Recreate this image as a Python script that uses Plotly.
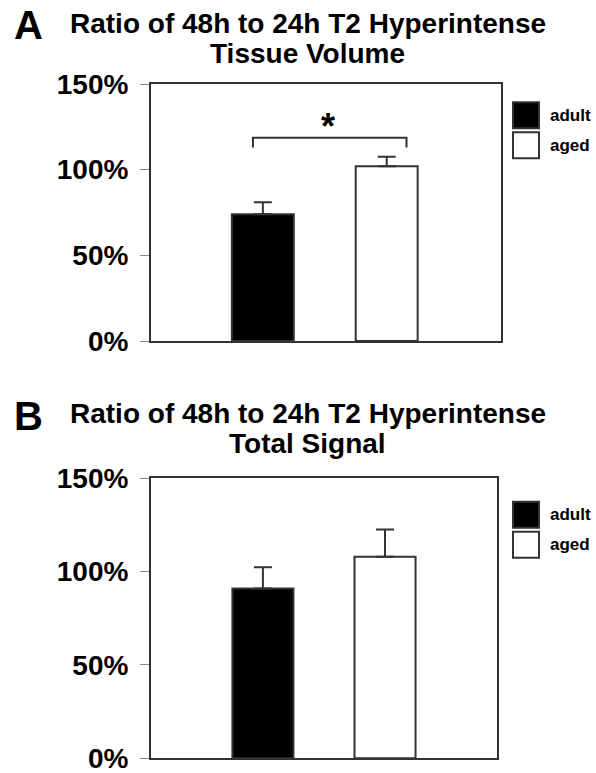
import plotly.graph_objects as go

# ---------------- data ----------------
groups = ["adult", "aged"]
colors = ["#000000", "#ffffff"]

vol_values = [74, 102]        # Panel A: tissue volume ratio (%)
vol_errors = [7, 5.5]
sig_values = [91, 108]        # Panel B: total signal ratio (%)
sig_errors = [11.3, 14.6]

tick_vals = [0, 50, 100, 150]
tick_text = ["0%", "50%", "100%", "150%"]

sig_bracket_level = 118.7     # significance bracket level (%) in panel A
sig_bracket_drop = 5.7
sig_label = "*"

W, H = 596, 773
FONT = "Liberation Sans, Arial, sans-serif"
LINE = "#333333"


def px(x):
    return x / W


def py(y):
    return 1 - y / H


fig = go.Figure()

panels = [
    dict(vals=vol_values, errs=vol_errors, xa="x", ya="y"),
    dict(vals=sig_values, errs=sig_errors, xa="x2", ya="y2"),
]

for p in panels:
    fig.add_trace(go.Bar(
        x=list(range(len(groups))), y=p["vals"],
        width=0.5,
        marker=dict(color=colors, line=dict(color=LINE, width=2)),
        error_y=dict(type="data", array=p["errs"], arrayminus=[0] * len(groups),
                     symmetric=False, color=LINE, thickness=2, width=9),
        xaxis=p["xa"], yaxis=p["ya"], showlegend=False, hoverinfo="skip",
    ))

# significance bracket (panel A), spanning the two bars
bx0, bx1 = 0 - 0.08, 1 + 0.16
fig.add_trace(go.Scatter(
    x=[bx0, bx0, bx1, bx1],
    y=[sig_bracket_level - sig_bracket_drop, sig_bracket_level,
       sig_bracket_level, sig_bracket_level - sig_bracket_drop],
    mode="lines", line=dict(color=LINE, width=2),
    xaxis="x", yaxis="y", showlegend=False, hoverinfo="skip",
))
fig.add_annotation(x=(bx0 + bx1) / 2, y=sig_bracket_level, xref="x", yref="y",
                   text=sig_label, showarrow=False, yanchor="bottom", yshift=-11,
                   xshift=-2,
                   font=dict(family=FONT, size=36, color="black", weight="bold"))

axis_common = dict(showline=True, linecolor=LINE, linewidth=2, mirror=True,
                   showgrid=False, zeroline=False, automargin=False)

yaxis_common = dict(axis_common, range=[0, 150], tickvals=tick_vals, ticktext=tick_text,
                    ticks="outside", ticklen=9, tickwidth=1, tickcolor="#888888",
                    ticklabelstandoff=6, ticklabeloverflow="allow",
                    tickfont=dict(family=FONT, size=28, color="black", weight="bold"))

fig.update_layout(
    template="none",
    width=W, height=H,
    margin=dict(l=0, r=0, t=0, b=0, pad=0, autoexpand=False),
    paper_bgcolor="white", plot_bgcolor="white",
    xaxis=dict(axis_common, domain=[px(151), px(501)], range=[-0.903, 1.923],
               showticklabels=False, ticks=""),
    yaxis=dict(yaxis_common, domain=[py(341), py(84)]),
    xaxis2=dict(axis_common, domain=[px(151), px(497)], range=[-0.9165, 1.917],
                showticklabels=False, ticks="", anchor="y2"),
    yaxis2=dict(yaxis_common, domain=[py(758.3), py(478.3)], anchor="x2"),
)

# panel letters and titles
titles = [
    ("A", ["Ratio of 48h to 24h T2 Hyperintense", "Tissue Volume"], 25, [23.5, 53.5]),
    ("B", ["Ratio of 48h to 24h T2 Hyperintense", "Total Signal"], 416, [413.5, 443.5]),
]
for letter, lines, ly, tys in titles:
    fig.add_annotation(x=px(12), y=py(ly), xref="paper", yref="paper", text=letter,
                       showarrow=False, xanchor="left", yanchor="middle",
                       font=dict(family=FONT, size=40, color="black", weight="bold"))
    for line, ty in zip(lines, tys):
        fig.add_annotation(x=px(307.5), y=py(ty), xref="paper", yref="paper", text=line,
                           showarrow=False, xanchor="center", yanchor="middle",
                           font=dict(family=FONT, size=28, color="black", weight="bold"))

# manual legends (large swatches)
legend_tops = [102.3, 501.7]
for top in legend_tops:
    for i, (g, c) in enumerate(zip(groups, colors)):
        y0 = top + i * 30
        fig.add_shape(type="rect", xref="paper", yref="paper",
                      x0=px(513), x1=px(539), y0=py(y0), y1=py(y0 + 26),
                      fillcolor=c, line=dict(color=LINE, width=2))
        fig.add_annotation(x=px(548), y=py(y0 + 13), xref="paper", yref="paper",
                           text=g, showarrow=False, xanchor="left", yanchor="middle",
                           font=dict(family=FONT, size=17, color="black", weight="bold"))

fig.write_html("out.html")
